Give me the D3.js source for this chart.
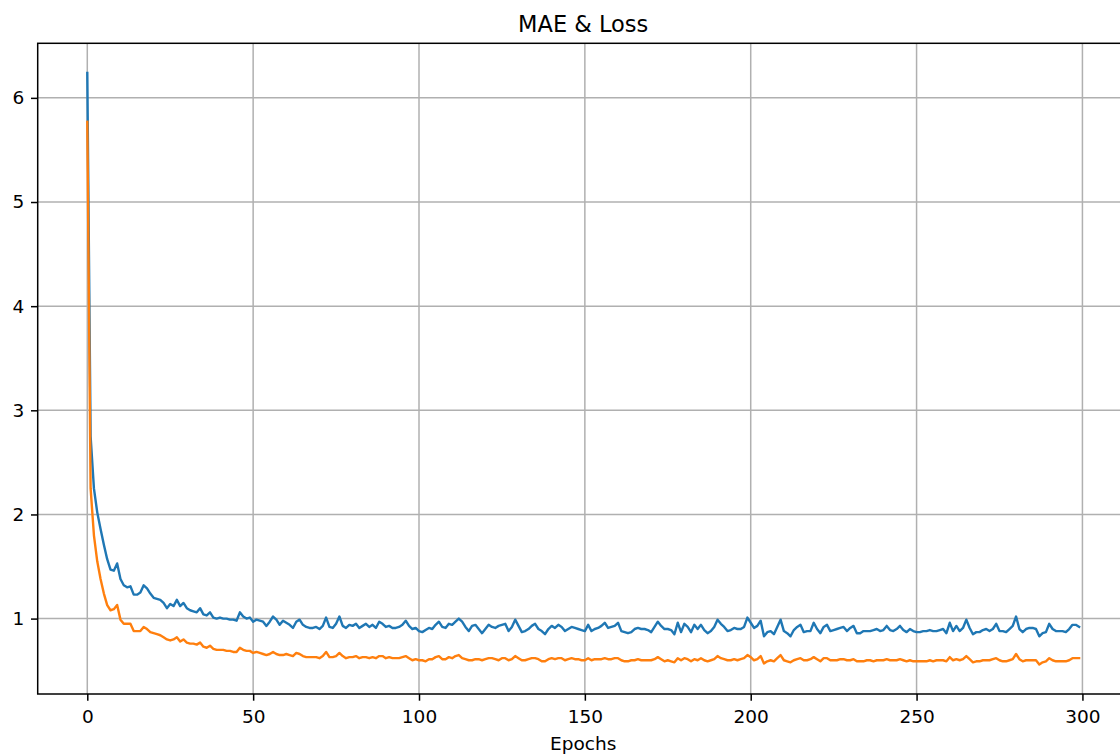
<!DOCTYPE html>
<html>
<head>
<meta charset="utf-8">
<script src="https://cdn.jsdelivr.net/npm/d3@7"></script>
<style>
  html, body { margin: 0; padding: 0; background: #fff; overflow: hidden; }
  svg { display: block; font-family: "DejaVu Sans", sans-serif; }
</style>
</head>
<body>
<div id="chart"></div>
<script>
// MAE per epoch (blue)
const mae = [
  6.24, 2.75, 2.25, 2.02, 1.86, 1.71, 1.57, 1.47, 1.46, 1.53,
  1.38, 1.32, 1.30, 1.31, 1.23, 1.23, 1.25, 1.32, 1.29, 1.24,
  1.20, 1.19, 1.18, 1.15, 1.10, 1.14, 1.12, 1.18, 1.12, 1.15,
  1.10, 1.08, 1.07, 1.06, 1.10, 1.04, 1.03, 1.06, 1.01, 1.00,
  1.01, 1.00, 1.00, 0.99, 0.99, 0.98, 1.06, 1.02, 1.00, 1.01,
  0.97, 0.99, 0.98, 0.97, 0.93, 0.97, 1.02, 0.99, 0.94, 0.98,
  0.96, 0.94, 0.91, 0.97, 0.99, 0.94, 0.92, 0.91, 0.91, 0.92,
  0.90, 0.93, 1.01, 0.92, 0.91, 0.95, 1.02, 0.93, 0.91, 0.94,
  0.93, 0.95, 0.91, 0.93, 0.95, 0.92, 0.94, 0.91, 0.97, 0.95,
  0.92, 0.93, 0.91, 0.91, 0.92, 0.94, 0.98, 0.93, 0.90, 0.91,
  0.88, 0.87, 0.89, 0.91, 0.90, 0.94, 0.97, 0.92, 0.91, 0.95,
  0.94, 0.97, 1.00, 0.97, 0.92, 0.88, 0.93, 0.94, 0.90, 0.86,
  0.90, 0.94, 0.92, 0.91, 0.93, 0.94, 0.95, 0.88, 0.92, 0.99,
  0.93, 0.87, 0.88, 0.90, 0.93, 0.95, 0.90, 0.88, 0.85, 0.90,
  0.93, 0.91, 0.94, 0.92, 0.88, 0.90, 0.92, 0.91, 0.90, 0.89,
  0.88, 0.94, 0.88, 0.90, 0.91, 0.93, 0.96, 0.91, 0.92, 0.93,
  0.96, 0.88, 0.87, 0.86, 0.87, 0.90, 0.91, 0.90, 0.90, 0.89,
  0.87, 0.92, 0.97, 0.93, 0.90, 0.90, 0.89, 0.85, 0.96, 0.87,
  0.95, 0.92, 0.87, 0.94, 0.90, 0.94, 0.89, 0.86, 0.88, 0.92,
  0.99, 0.95, 0.92, 0.88, 0.89, 0.91, 0.90, 0.90, 0.92, 1.01,
  0.96, 0.91, 0.93, 0.98, 0.83, 0.87, 0.88, 0.85, 0.92, 0.99,
  0.88, 0.86, 0.83, 0.89, 0.92, 0.94, 0.87, 0.88, 0.88, 0.96,
  0.90, 0.86, 0.92, 0.94, 0.88, 0.89, 0.90, 0.91, 0.92, 0.88,
  0.91, 0.93, 0.86, 0.86, 0.88, 0.88, 0.88, 0.89, 0.90, 0.88,
  0.89, 0.93, 0.89, 0.88, 0.90, 0.93, 0.89, 0.87, 0.90, 0.88,
  0.87, 0.87, 0.88, 0.88, 0.89, 0.88, 0.88, 0.89, 0.90, 0.86,
  0.96, 0.88, 0.93, 0.88, 0.91, 0.99, 0.91, 0.85, 0.87, 0.87,
  0.89, 0.90, 0.88, 0.90, 0.95, 0.88, 0.88, 0.87, 0.90, 0.93,
  1.02, 0.90, 0.87, 0.90, 0.91, 0.91, 0.90, 0.83, 0.86, 0.87,
  0.95, 0.90, 0.88, 0.88, 0.88, 0.87, 0.90, 0.94, 0.94, 0.92
];

// Loss per epoch (orange)
const loss = [
  5.77, 2.25, 1.80, 1.55, 1.38, 1.24, 1.13, 1.08, 1.09, 1.13,
  0.99, 0.95, 0.95, 0.95, 0.88, 0.88, 0.88, 0.92, 0.90, 0.87,
  0.86, 0.85, 0.84, 0.82, 0.80, 0.79, 0.80, 0.82, 0.78, 0.80,
  0.77, 0.76, 0.76, 0.75, 0.77, 0.73, 0.72, 0.74, 0.71, 0.70,
  0.70, 0.70, 0.69, 0.69, 0.68, 0.68, 0.72, 0.70, 0.69, 0.69,
  0.67, 0.68, 0.67, 0.66, 0.65, 0.66, 0.68, 0.66, 0.65, 0.65,
  0.66, 0.65, 0.64, 0.67, 0.66, 0.64, 0.63, 0.63, 0.63, 0.63,
  0.62, 0.64, 0.68, 0.63, 0.63, 0.64, 0.67, 0.64, 0.62, 0.63,
  0.63, 0.64, 0.62, 0.63, 0.63, 0.62, 0.63, 0.62, 0.64, 0.64,
  0.62, 0.63, 0.62, 0.62, 0.62, 0.63, 0.64, 0.62, 0.60, 0.61,
  0.60, 0.60, 0.59, 0.61, 0.61, 0.63, 0.64, 0.61, 0.61, 0.63,
  0.62, 0.64, 0.65, 0.62, 0.61, 0.60, 0.60, 0.61, 0.61, 0.60,
  0.61, 0.62, 0.62, 0.61, 0.60, 0.62, 0.62, 0.60, 0.61, 0.64,
  0.62, 0.60, 0.60, 0.61, 0.62, 0.62, 0.61, 0.59, 0.59, 0.61,
  0.62, 0.61, 0.62, 0.62, 0.60, 0.61, 0.62, 0.61, 0.61, 0.60,
  0.60, 0.62, 0.60, 0.61, 0.61, 0.61, 0.62, 0.61, 0.61, 0.62,
  0.62, 0.60, 0.59, 0.59, 0.60, 0.60, 0.61, 0.60, 0.60, 0.60,
  0.60, 0.61, 0.63, 0.61, 0.59, 0.60, 0.59, 0.58, 0.62, 0.60,
  0.62, 0.61, 0.59, 0.61, 0.60, 0.62, 0.60, 0.59, 0.60, 0.61,
  0.64, 0.62, 0.61, 0.60, 0.60, 0.61, 0.60, 0.61, 0.62, 0.65,
  0.63, 0.60, 0.61, 0.64, 0.57, 0.59, 0.60, 0.59, 0.62, 0.65,
  0.60, 0.59, 0.58, 0.60, 0.61, 0.62, 0.60, 0.60, 0.61, 0.63,
  0.61, 0.59, 0.62, 0.62, 0.60, 0.60, 0.60, 0.61, 0.61, 0.60,
  0.60, 0.61, 0.59, 0.59, 0.59, 0.60, 0.60, 0.59, 0.60, 0.60,
  0.60, 0.61, 0.60, 0.60, 0.60, 0.61, 0.60, 0.59, 0.60, 0.59,
  0.59, 0.59, 0.59, 0.59, 0.60, 0.59, 0.60, 0.60, 0.60, 0.59,
  0.63, 0.60, 0.61, 0.60, 0.61, 0.64, 0.61, 0.58, 0.59, 0.59,
  0.60, 0.60, 0.60, 0.61, 0.62, 0.60, 0.59, 0.59, 0.60, 0.61,
  0.66, 0.61, 0.59, 0.60, 0.60, 0.60, 0.60, 0.56, 0.58, 0.59,
  0.62, 0.60, 0.59, 0.59, 0.59, 0.59, 0.60, 0.62, 0.62, 0.62
];

const xTicks = [0, 50, 100, 150, 200, 250, 300];
const yTicks = [1, 2, 3, 4, 5, 6];
const seriesColors = ["#1f77b4", "#ff7f0e"];

const W = 1120, H = 756;
// axes box (right edge falls outside the picture, as in the reference)
const box = { left: 37.7, top: 43.3, right: 1128.7, bottom: 694 };

const svg = d3.select("#chart").append("svg")
  .attr("width", W)
  .attr("height", H)
  .attr("viewBox", [0, 0, W, H]);

// matplotlib-like 5% margins
const n = mae.length;
const xPad = (n - 1) * 0.05;
const x = d3.scaleLinear()
  .domain([-xPad, n - 1 + xPad])
  .range([box.left, box.right]);

const all = mae.concat(loss);
const yMin = d3.min(all), yMax = d3.max(all);
const yPad = (yMax - yMin) * 0.05;
const y = d3.scaleLinear()
  .domain([yMin - yPad, yMax + yPad])
  .range([box.bottom, box.top]);

const tickLen = 6.7;
const fontPx = 18.5;

// grid
const grid = svg.append("g").attr("class", "grid");
grid.selectAll("line.vx")
  .data(xTicks)
  .join("line")
  .attr("class", "vx")
  .attr("x1", d => x(d)).attr("x2", d => x(d))
  .attr("y1", box.top).attr("y2", box.bottom)
  .attr("stroke", "#b0b0b0").attr("stroke-width", 1.5);
grid.selectAll("line.hy")
  .data(yTicks)
  .join("line")
  .attr("class", "hy")
  .attr("x1", box.left).attr("x2", box.right)
  .attr("y1", d => y(d)).attr("y2", d => y(d))
  .attr("stroke", "#b0b0b0").attr("stroke-width", 1.5);

// lines
const line = d3.line()
  .x((d, i) => x(i))
  .y(d => y(d));

svg.append("g")
  .selectAll("path")
  .data([mae, loss])
  .join("path")
  .attr("d", line)
  .attr("fill", "none")
  .attr("stroke", (d, i) => seriesColors[i])
  .attr("stroke-width", 2.4)
  .attr("stroke-linejoin", "round")
  .attr("stroke-linecap", "square");

// axes
const xAxis = svg.append("g")
  .attr("transform", `translate(0,${box.bottom})`)
  .call(d3.axisBottom(x).tickValues(xTicks).tickSize(tickLen).tickPadding(6.7).tickSizeOuter(0));
const yAxis = svg.append("g")
  .attr("transform", `translate(${box.left},0)`)
  .call(d3.axisLeft(y).tickValues(yTicks).tickFormat(d3.format("d")).tickSize(tickLen).tickPadding(6.7).tickSizeOuter(0));

[xAxis, yAxis].forEach(g => {
  g.select(".domain").remove();
  g.selectAll(".tick line").attr("stroke", "#000").attr("stroke-width", 1.5);
  g.selectAll(".tick text")
    .attr("fill", "#000")
    .style("font-size", fontPx + "px")
    .style("font-family", "DejaVu Sans, sans-serif");
});
xAxis.selectAll(".tick text").attr("dy", null).attr("y", null)
  .attr("transform", `translate(0,${723.3 - box.bottom})`);

// spines
svg.append("rect")
  .attr("x", box.left).attr("y", box.top)
  .attr("width", box.right - box.left)
  .attr("height", box.bottom - box.top)
  .attr("fill", "none")
  .attr("stroke", "#000")
  .attr("stroke-width", 1.5);

// title and label
svg.append("text")
  .attr("x", (box.left + box.right) / 2)
  .attr("y", 31.5)
  .attr("text-anchor", "middle")
  .style("font-size", "22.5px")
  .text("MAE & Loss");

svg.append("text")
  .attr("x", (box.left + box.right) / 2)
  .attr("y", 750)
  .attr("text-anchor", "middle")
  .style("font-size", fontPx + "px")
  .text("Epochs");
</script>
</body>
</html>
